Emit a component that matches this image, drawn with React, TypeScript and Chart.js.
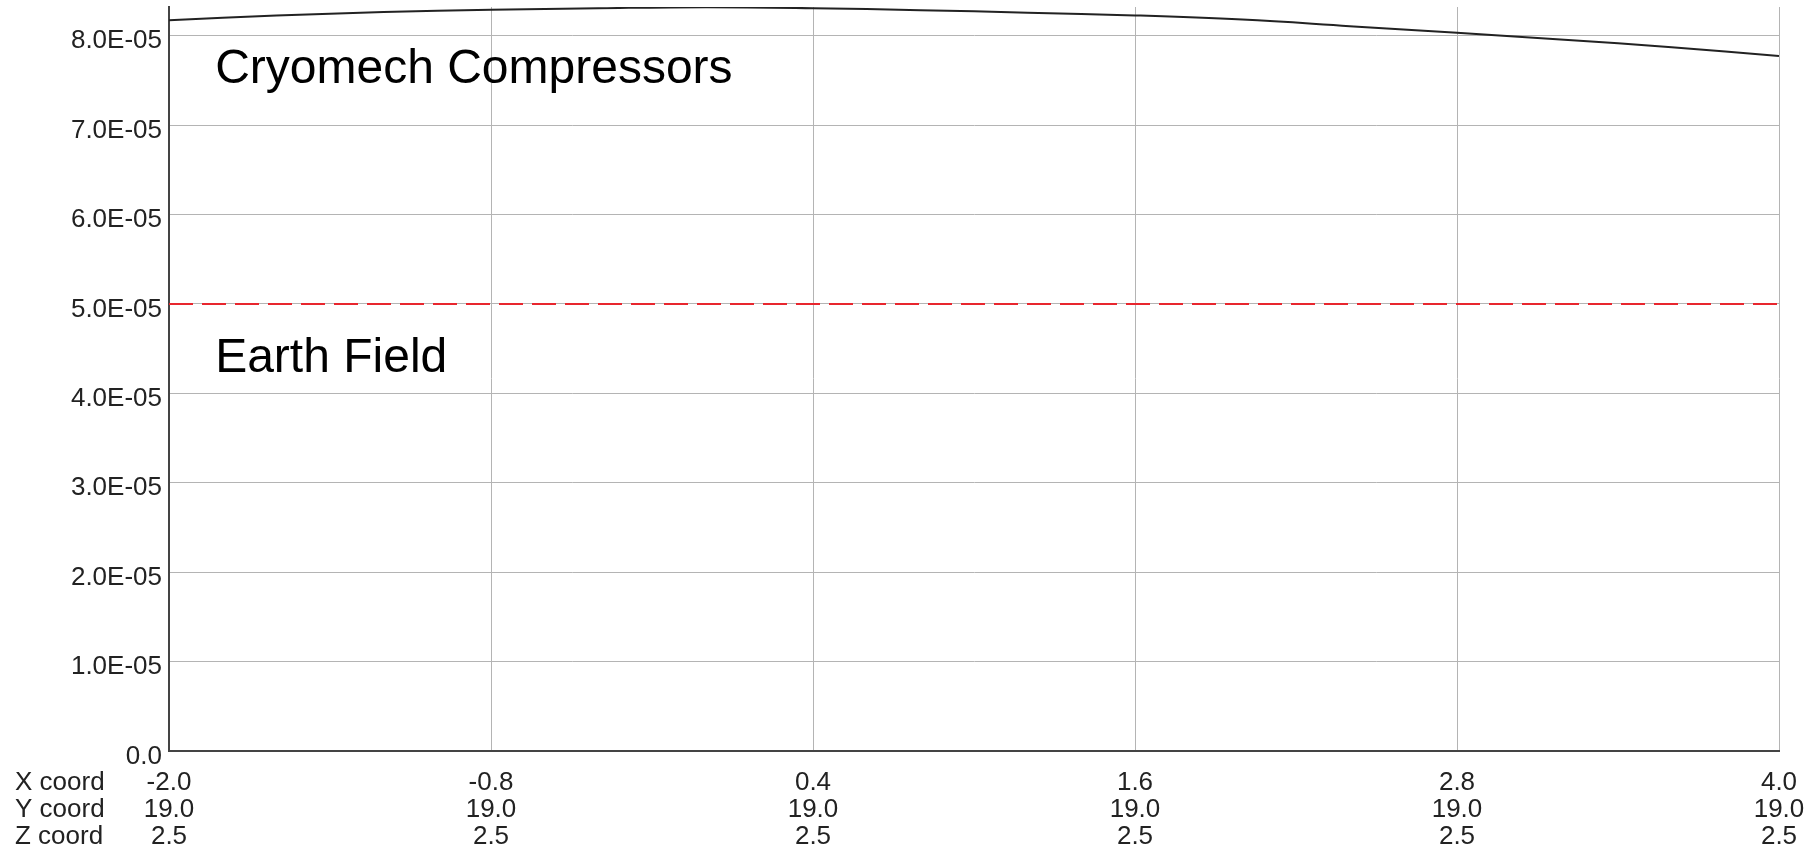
import React, { useEffect, useRef } from "react";
import { Chart, registerables } from "chart.js";

Chart.register(...registerables);

const X_VALUES = [-2.0, -1.6, -1.2, -0.8, -0.4, 0.0, 0.4, 0.8, 1.2, 1.6, 2.0, 2.4, 2.8, 3.2, 3.6, 4.0];
const COMPRESSOR_FIELD = [
  8.173e-5, 8.224e-5, 8.263e-5, 8.288e-5, 8.306e-5, 8.318e-5, 8.307e-5, 8.285e-5,
  8.257e-5, 8.226e-5, 8.179e-5, 8.106e-5, 8.031e-5, 7.955e-5, 7.871e-5, 7.771e-5,
];
const EARTH_X = [-2.0, 4.0];
const EARTH_FIELD = [5e-5, 5e-5];

const X_TICKS = [-2.0, -0.8, 0.4, 1.6, 2.8, 4.0];
const Y_COORDS = ["19.0", "19.0", "19.0", "19.0", "19.0", "19.0"];
const Z_COORDS = ["2.5", "2.5", "2.5", "2.5", "2.5", "2.5"];
const ROW_HEADERS = ["X coord", "Y coord", "Z coord"];
const Y_TICKS = [0, 1e-5, 2e-5, 3e-5, 4e-5, 5e-5, 6e-5, 7e-5, 8e-5];

const LABELS = [
  { text: "Cryomech Compressors", x: -1.828, y: 7.47e-5 },
  { text: "Earth Field", x: -1.828, y: 4.24e-5 },
];

const FONT = "'Liberation Sans', Arial, sans-serif";
const TICK_SIZE = 26;
const X_LINE_H = 27;
const X_PAD = 18;
const Y_SHIFT_LINE_H = 11;

function fmtY(v: number): string {
  if (Math.abs(v) < 1e-12) return "0.0";
  const [m, e] = v.toExponential(1).split("e");
  const n = parseInt(e, 10);
  const sign = n < 0 ? "-" : "+";
  const abs = Math.abs(n).toString().padStart(2, "0");
  return `${m}E${sign}${abs}`;
}

const overlayPlugin = {
  id: "overlay",
  afterDraw(chart: any) {
    const { ctx, scales } = chart;
    const xs = scales.x;
    const ys = scales.y;
    ctx.save();
    ctx.fillStyle = "#000";
    ctx.textAlign = "left";
    ctx.textBaseline = "alphabetic";
    ctx.font = `48px ${FONT}`;
    LABELS.forEach((l) => {
      ctx.fillText(l.text, xs.getPixelForValue(l.x), ys.getPixelForValue(l.y));
    });
    ctx.font = `${TICK_SIZE}px ${FONT}`;
    ctx.fillStyle = "#222";
    ctx.textBaseline = "middle";
    ROW_HEADERS.forEach((h, i) => {
      ctx.fillText(h, 15, xs.top + X_PAD + X_LINE_H * (i + 0.5));
    });
    ctx.restore();
  },
};

function zeroPad(s: any) {
  s.paddingTop = 0;
  s.paddingBottom = 0;
  s.paddingLeft = 0;
  s.paddingRight = 0;
}

export default function App() {
  const ref = useRef<HTMLCanvasElement | null>(null);
  useEffect(() => {
    if (!ref.current) return;
    const chart = new Chart(ref.current, {
      type: "line",
      data: {
        datasets: [
          {
            label: "Earth Field",
            data: EARTH_X.map((x, i) => ({ x, y: EARTH_FIELD[i] })),
            borderColor: "#e8262e",
            borderWidth: 2,
            borderDash: [24, 9],
            pointRadius: 0,
            fill: false,
          },
          {
            label: "Cryomech Compressors",
            data: X_VALUES.map((x, i) => ({ x, y: COMPRESSOR_FIELD[i] })),
            borderColor: "#222",
            borderWidth: 2,
            pointRadius: 0,
            tension: 0.4,
            fill: false,
          },
        ],
      },
      options: {
        responsive: false,
        animation: false,
        layout: { padding: { top: 7, right: 37, left: 0, bottom: 0 } },
        plugins: { legend: { display: false }, tooltip: { enabled: false } },
        scales: {
          x: {
            type: "linear",
            min: -2.0,
            max: 4.0,
            afterBuildTicks: (s: any) => {
              s.ticks = X_TICKS.map((v) => ({ value: v }));
            },
            afterFit: (s: any) => {
              s.height = 100;
              zeroPad(s);
            },
            grid: { color: "#b4b4b4", lineWidth: 1, drawTicks: false },
            border: { color: "#444", width: 2 },
            ticks: {
              autoSkip: false,
              maxRotation: 0,
              padding: X_PAD,
              color: "#222",
              font: { family: FONT, size: TICK_SIZE, lineHeight: X_LINE_H / TICK_SIZE },
              callback: (v: any) => {
                const val = Number(v);
                let idx = 0;
                X_TICKS.forEach((t, i) => {
                  if (Math.abs(t - val) < Math.abs(X_TICKS[idx] - val)) idx = i;
                });
                return [val.toFixed(1), Y_COORDS[idx], Z_COORDS[idx]];
              },
            },
          },
          y: {
            type: "linear",
            min: 0,
            max: 8.32e-5,
            afterBuildTicks: (s: any) => {
              s.ticks = Y_TICKS.map((v) => ({ value: v }));
            },
            afterFit: (s: any) => {
              s.width = 169;
              zeroPad(s);
            },
            grid: { color: "#b4b4b4", lineWidth: 1, drawTicks: false },
            border: { color: "#444", width: 2 },
            ticks: {
              padding: 7,
              color: "#222",
              font: { family: FONT, size: TICK_SIZE, lineHeight: Y_SHIFT_LINE_H / TICK_SIZE },
              callback: (v: any) => ["", fmtY(Number(v))],
            },
          },
        },
      },
      plugins: [overlayPlugin],
    });
    return () => chart.destroy();
  }, []);
  return (
    <div style={{ position: "fixed", left: 0, top: 0, width: 1816, height: 851, background: "#fff" }}>
      <canvas ref={ref} width={1816} height={851} style={{ display: "block" }} />
    </div>
  );
}
